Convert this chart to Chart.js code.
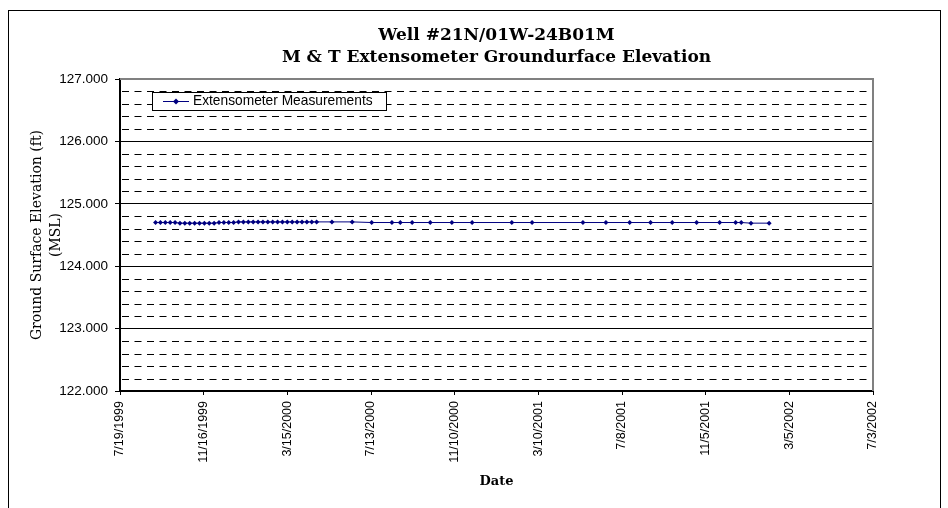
<!DOCTYPE html>
<html><head><meta charset="utf-8">
<script src="https://cdn.jsdelivr.net/npm/chart.js@4"></script>
<style>html,body{margin:0;padding:0;background:#fff}#wrap{width:948px;height:508px;position:relative}</style>
</head><body><div id="wrap"><canvas id="c" width="948" height="508"></canvas></div>
<script>
const titleLines = ["Well #21N/01W-24B01M", "M & T Extensometer Groundurface Elevation"];
const seriesLabel = "Extensometer Measurements";
const xAxisTitle = "Date";
const yAxisTitleLines = ["Ground Surface Elevation (ft)", "(MSL)"];

const measurementDates = [
  "9/8/1999","9/15/1999","9/22/1999","9/29/1999","10/6/1999","10/13/1999","10/20/1999","10/27/1999",
  "11/3/1999","11/10/1999","11/17/1999","11/24/1999","12/1/1999","12/8/1999","12/15/1999","12/22/1999",
  "12/29/1999","1/5/2000","1/12/2000","1/19/2000","1/26/2000","2/2/2000","2/9/2000","2/16/2000",
  "2/23/2000","3/1/2000","3/8/2000","3/15/2000","3/22/2000","3/29/2000","4/5/2000","4/12/2000",
  "4/19/2000","4/26/2000",
  "5/18/2000","6/16/2000","7/14/2000","8/12/2000","8/24/2000","9/10/2000","10/6/2000","11/6/2000",
  "12/5/2000","1/31/2001","3/1/2001","5/13/2001","6/15/2001","7/19/2001","8/18/2001","9/18/2001",
  "10/23/2001","11/25/2001","12/18/2001","12/26/2001","1/9/2002","2/4/2002"
];
const elevationValues = [
  124.70,124.70,124.70,124.70,124.70,124.69,124.69,124.69,
  124.69,124.69,124.69,124.69,124.69,124.70,124.70,124.70,
  124.70,124.71,124.71,124.71,124.71,124.71,124.71,124.71,
  124.71,124.71,124.71,124.71,124.71,124.71,124.71,124.71,
  124.71,124.71,
  124.71,124.71,124.70,124.70,124.70,124.70,124.70,124.70,
  124.70,124.70,124.70,124.70,124.70,124.70,124.70,124.70,
  124.70,124.70,124.70,124.70,124.69,124.69
];

const xTickStart = "7/19/1999";
const xTickEnd = "7/3/2002";
const xTickStepDays = 120;
const yMin = 122, yMax = 127, yMajorStep = 1, yMinorStep = 0.2;

function toDay(s){ const p = s.split('/').map(Number); return Date.UTC(p[2], p[0]-1, p[1]) / 86400000; }
function fromDay(n){ const d = new Date(Math.round(n) * 86400000); return (d.getUTCMonth()+1) + '/' + d.getUTCDate() + '/' + d.getUTCFullYear(); }
function isMajor(v){ return Math.abs(v/yMajorStep - Math.round(v/yMajorStep)) < 1e-6; }

const points = measurementDates.map((d, i) => ({ x: toDay(d), y: elevationValues[i] }));
const NAVY = '#000080';

const decor = {
  id: 'decor',
  beforeDatasetsDraw(chart){
    const ctx = chart.ctx, a = chart.chartArea, ys = chart.scales.y;
    ctx.save();
    ctx.strokeStyle = '#000'; ctx.lineWidth = 1; ctx.setLineDash([7, 5.5]);
    ys.ticks.forEach(t => {
      if (isMajor(t.value)) return;
      const y = Math.round(ys.getPixelForValue(t.value)) + 0.5;
      ctx.beginPath(); ctx.moveTo(a.left + 2, y); ctx.lineTo(a.right, y); ctx.stroke();
    });
    ctx.restore();
  },
  afterDraw(chart){
    const ctx = chart.ctx, a = chart.chartArea;
    ctx.save();
    ctx.strokeStyle = '#808080'; ctx.lineWidth = 2;
    ctx.beginPath(); ctx.moveTo(a.left, a.top); ctx.lineTo(a.right, a.top); ctx.lineTo(a.right, a.bottom); ctx.stroke();
    ctx.strokeStyle = '#000'; ctx.lineWidth = 1;
    ctx.strokeRect(8.5, 10.5, 932, 600);
    const cx = (a.left + a.right) / 2;
    ctx.fillStyle = '#000'; ctx.textAlign = 'center'; ctx.textBaseline = 'alphabetic';
    ctx.font = 'bold 17px "DejaVu Serif"';
    ctx.fillText(titleLines[0], cx, 40);
    ctx.fillText(titleLines[1], cx, 62);
    ctx.font = 'bold 13px "DejaVu Serif"';
    ctx.fillText(xAxisTitle, cx, 485);
    ctx.font = '14px "DejaVu Serif"';
    const cy = (a.top + a.bottom) / 2;
    ctx.save(); ctx.translate(41, cy); ctx.rotate(-Math.PI/2); ctx.fillText(yAxisTitleLines[0], 0, 0); ctx.restore();
    ctx.save(); ctx.translate(60, cy); ctx.rotate(-Math.PI/2); ctx.fillText(yAxisTitleLines[1], 0, 0); ctx.restore();
    const lx = 152, ly = 92, lw = 234, lh = 18;
    ctx.fillStyle = '#fff'; ctx.fillRect(lx, ly, lw, lh);
    ctx.strokeStyle = '#000'; ctx.lineWidth = 1; ctx.strokeRect(lx + 0.5, ly + 0.5, lw, lh);
    const my = ly + lh/2 + 0.5;
    ctx.strokeStyle = NAVY; ctx.beginPath(); ctx.moveTo(163, my); ctx.lineTo(189, my); ctx.stroke();
    ctx.fillStyle = NAVY; ctx.beginPath();
    ctx.moveTo(176, my - 3); ctx.lineTo(179, my); ctx.lineTo(176, my + 3); ctx.lineTo(173, my); ctx.closePath(); ctx.fill();
    ctx.fillStyle = '#000'; ctx.textAlign = 'left'; ctx.textBaseline = 'middle';
    ctx.font = '13.75px "Liberation Sans"';
    ctx.fillText(chart.data.datasets[0].label, 193, my);
    ctx.restore();
  }
};

new Chart(document.getElementById('c'), {
  type: 'line',
  data: { datasets: [{
    label: seriesLabel, data: points,
    borderColor: NAVY, borderWidth: 1, backgroundColor: NAVY,
    pointStyle: 'rectRot', pointRadius: 2.5, pointBackgroundColor: NAVY, pointBorderColor: NAVY, pointBorderWidth: 0,
    tension: 0, fill: false
  }]},
  options: {
    responsive: false, animation: false, devicePixelRatio: 1,
    layout: { padding: { top: 79, right: 75, left: 0, bottom: 0 } },
    plugins: { legend: { display: false }, title: { display: false }, tooltip: { enabled: false } },
    scales: {
      x: {
        type: 'linear', min: toDay(xTickStart), max: toDay(xTickEnd),
        ticks: { stepSize: xTickStepDays, autoSkip: false, maxRotation: 90, minRotation: 90, padding: 6,
          color: '#000', font: { family: 'Liberation Sans', size: 12.5 }, callback: v => fromDay(v) },
        grid: { drawOnChartArea: false, drawTicks: true, tickLength: 4, tickColor: '#000', tickWidth: 1 },
        border: { color: '#000', width: 2 },
        afterFit: s => { s.height = 117; }
      },
      y: {
        min: yMin, max: yMax,
        ticks: { stepSize: yMinorStep, autoSkip: false, padding: 7, color: '#000',
          font: { family: 'Liberation Sans', size: 13.5 },
          callback: v => isMajor(v) ? Math.round(v).toFixed(3) : '' },
        grid: { color: c => (c.tick && isMajor(c.tick.value)) ? '#000' : 'rgba(0,0,0,0)',
          tickColor: c => (c.tick && isMajor(c.tick.value)) ? '#000' : 'rgba(0,0,0,0)',
          lineWidth: 1, tickLength: 5 },
        border: { color: '#000', width: 2 },
        afterFit: s => { s.width = 120; }
      }
    }
  },
  plugins: [decor]
});
</script></body></html>
